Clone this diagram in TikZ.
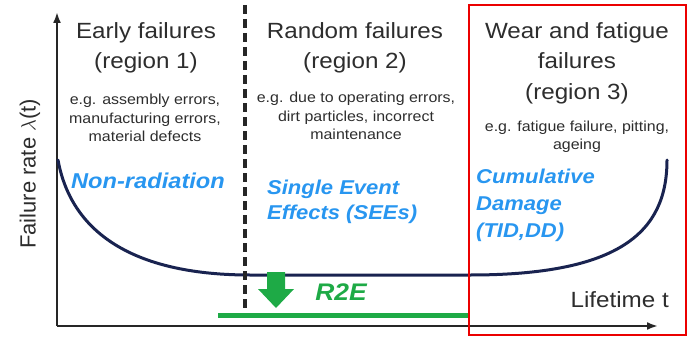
\documentclass[tikz,border=0pt]{standalone}
\usepackage{fontspec}
\setmainfont{Liberation Sans}[FakeStretch=1.1]
\newfontfamily\plainsans{Liberation Sans}
\usetikzlibrary{arrows.meta}
\definecolor{txtgray}{RGB}{45,45,45}
\definecolor{bluetxt}{RGB}{40,150,240}
\definecolor{greenr}{RGB}{30,170,70}
\definecolor{navy}{RGB}{25,35,80}
\definecolor{redbox}{RGB}{235,0,0}
\tikzset{
  title/.style={text=txtgray, align=center, inner sep=0pt, font=\fontsize{22}{30.5}\selectfont},
  small/.style={text=txtgray, align=center, inner sep=0pt, font=\fontsize{14.5}{18.5}\selectfont},
  bluelab/.style={text=bluetxt, align=left, inner sep=0pt, font=\fontsize{20}{25}\selectfont\bfseries\itshape},
  axis/.style={line width=2.3pt, -{Latex[length=11pt,width=8pt]}, black!85},
}
\begin{document}
\begin{tikzpicture}[x=1pt,y=-1pt]
\useasboundingbox (0,0) rectangle (688,337);
% axes
\coordinate (o) at (57,326);
\coordinate (ytop) at (57,12);
\coordinate (xend) at (658,326);
\draw[axis] (o) -- (ytop);
\draw[axis] (o) -- (xend);
% curve
\coordinate (c0) at (58,160);
\coordinate (c1) at (250,275);
\coordinate (c2) at (470,275);
\coordinate (c3) at (667,160);
\draw[navy, line width=3pt, line cap=round] (c0) .. controls (72,237) and (140,275) .. (c1) -- (c2) .. controls (620,275) and (667,232) .. (c3);
% dashed divider
\coordinate (d0) at (245,5);
\coordinate (d1) at (245,310);
\draw[black!85, line width=3.5pt, dash pattern=on 9pt off 5pt] (d0) -- (d1);
% red box
\draw[redbox, line width=2.6pt] (469,5) rectangle (686,335);
% green line
\coordinate (g0) at (218,315);
\coordinate (g1) at (468,315);
\draw[greenr, line width=5pt] (g0) -- (g1);
% green arrow
\fill[greenr] (267,272) -- (285,272) -- (285,289) -- (294,289) -- (276,308) -- (258,289) -- (267,289) -- cycle;
\node[text=greenr, inner sep=0pt, font=\fontsize{24}{24}\selectfont\bfseries\itshape] (r2e) at (341,292) {R2E};
% titles
\node[title] (t1) at (146,48) {Early failures\\(region 1)};
\node[small] (s1) at (145,118) {e.g. assembly errors,\\manufacturing errors,\\material defects};
\node[title] (t2) at (355,48) {Random failures\\(region 2)};
\node[small] (s2) at (356,116) {e.g. due to operating errors,\\dirt particles, incorrect\\maintenance};
\node[title] (t3) at (577,63) {Wear and fatigue\\failures\\(region 3)};
\node[small] (s3) at (577,137) {e.g. fatigue failure, pitting,\\ageing};
% blue labels
\node[bluelab, font=\fontsize{21.5}{25}\selectfont\bfseries\itshape] (nr) at (148,181) {Non-radiation};
\node[bluelab, anchor=west] (see) at (267,202) {Single Event\\Effects (SEEs)};
\node[bluelab, anchor=west, font=\fontsize{20}{27}\selectfont\bfseries\itshape] (cd) at (476,205) {Cumulative\\Damage\\(TID,DD)};
% axis labels
\node[text=txtgray, inner sep=0pt, anchor=east, font=\fontsize{22}{22}\selectfont] (lt) at (669,300) {Lifetime t};
\node[text=txtgray, inner sep=0pt, rotate=90, font=\plainsans\fontsize{22}{22}\selectfont] (fr) at (30,174) {Failure rate $\lambda$(t)};
\end{tikzpicture}
\end{document}
